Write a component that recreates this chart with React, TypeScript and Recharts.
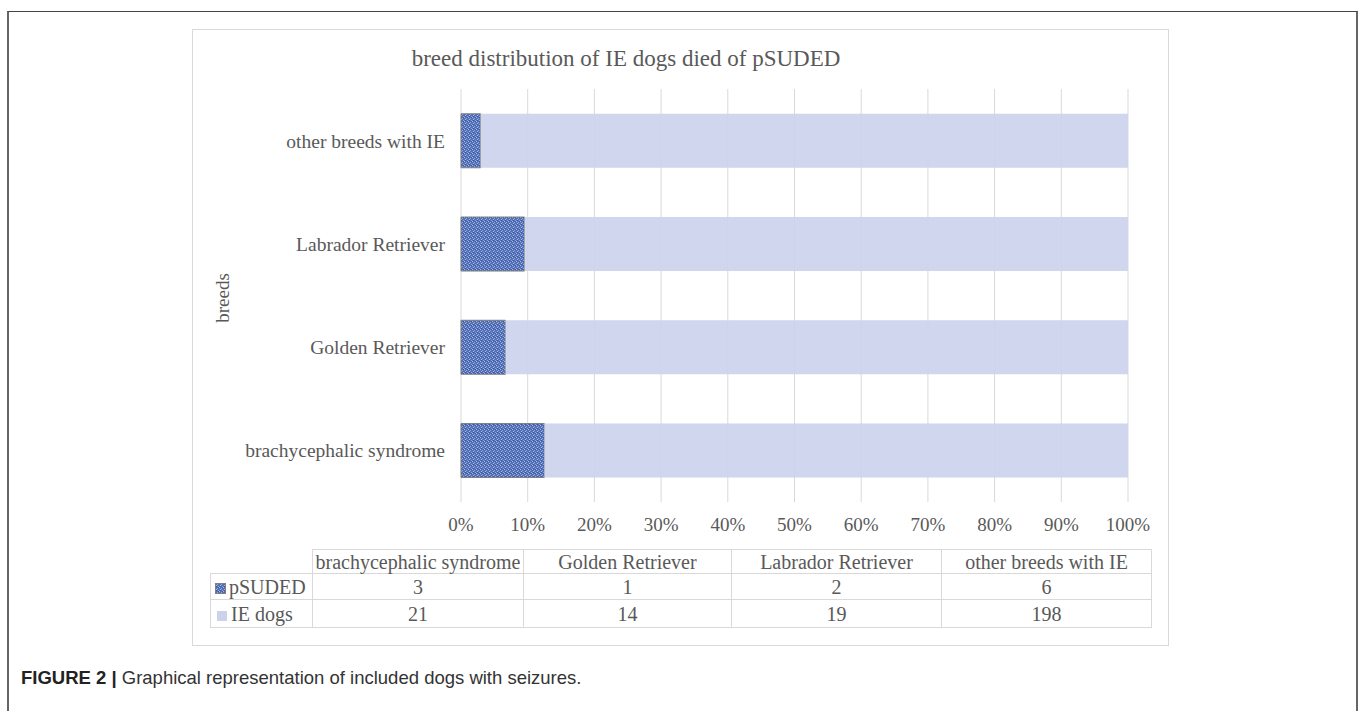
import React from 'react';
import { BarChart, Bar, XAxis, YAxis, CartesianGrid } from 'recharts';

// categories (bottom to top in the picture)
const breeds = ['brachycephalic syndrome', 'Golden Retriever', 'Labrador Retriever', 'other breeds with IE'];
const psuded = [3, 1, 2, 6];
const ieDogs = [21, 14, 19, 198];
const percentTicks = [0, 0.1, 0.2, 0.3, 0.4, 0.5, 0.6, 0.7, 0.8, 0.9, 1];

const data = breeds.map((breed, i) => ({ breed, pSUDED: psuded[i], 'IE dogs': ieDogs[i] }));

const SERIF = '"Liberation Serif", "Times New Roman", serif';
const TEXT = '#595959';
const IE_COLOR = '#cbd3ec';

const PatternDef = ({ id }) => (
  <pattern id={id} width="4" height="4" patternUnits="userSpaceOnUse">
    <rect width="4" height="4" fill="#5371b8" />
    <rect x="0" y="0" width="1" height="1" fill="#a9b9e3" />
    <rect x="2" y="1" width="1" height="1" fill="#93a7da" />
    <rect x="1" y="2" width="1" height="1" fill="#a9b9e3" />
    <rect x="3" y="3" width="1" height="1" fill="#93a7da" />
    <rect x="3" y="0" width="1" height="1" fill="#3b5699" />
    <rect x="1" y="3" width="1" height="1" fill="#3b5699" />
  </pattern>
);

const colWidths = [102, 211, 208, 210, 210];

const cell = {
  border: '1px solid #d9d9d9',
  padding: 0,
  textAlign: 'center' as const,
  fontFamily: SERIF,
  fontSize: 20,
  color: TEXT,
  lineHeight: '22px',
  whiteSpace: 'nowrap' as const,
};

export default function App() {
  return (
    <div style={{ position: 'absolute', left: 0, top: 0, width: 1358, height: 711, overflow: 'hidden', background: '#fff' }}>
      {/* outer figure frame */}
      <div
        style={{
          position: 'absolute',
          left: 7,
          top: 11,
          width: 1347,
          height: 760,
          borderLeft: '2px solid #666',
          borderTop: '1px solid #444',
          borderRight: '2px solid #666',
        }}
      />
      {/* chart area box */}
      <div
        style={{
          position: 'absolute',
          left: 192,
          top: 29,
          width: 975,
          height: 615,
          border: '1px solid #d9d9d9',
        }}
      />
      <div
        style={{
          position: 'absolute',
          left: 192,
          top: 46,
          width: 868,
          textAlign: 'center',
          fontFamily: SERIF,
          fontSize: 23,
          color: TEXT,
        }}
      >
        breed distribution of IE dogs died of pSUDED
      </div>
      <div
        style={{
          position: 'absolute',
          left: 223,
          top: 298,
          transform: 'translate(-50%, -50%) rotate(-90deg)',
          fontFamily: SERIF,
          fontSize: 19,
          color: TEXT,
          whiteSpace: 'nowrap',
        }}
      >
        breeds
      </div>

      <div style={{ position: 'absolute', left: 192, top: 29 }}>
        <BarChart
          width={977}
          height={520}
          data={data}
          layout="vertical"
          stackOffset="expand"
          barCategoryGap="24%"
          margin={{ top: 60, right: 41, bottom: 17, left: 0 }}
        >
          <defs>
            <PatternDef id="psudedFill" />
          </defs>
          <CartesianGrid horizontal={false} stroke="#d9d9d9" />
          <XAxis
            type="number"
            domain={[0, 1]}
            ticks={percentTicks}
            tickFormatter={(v) => `${Math.round(v * 100)}%`}
            axisLine={false}
            tickLine={false}
            tickMargin={10}
            height={30}
            tick={{ fontFamily: SERIF, fontSize: 19, fill: TEXT }}
          />
          <YAxis
            type="category"
            dataKey="breed"
            reversed
            width={269}
            axisLine={false}
            tickLine={false}
            tickMargin={10}
            tick={{ fontFamily: SERIF, fontSize: 19.5, fill: TEXT }}
          />
          <Bar dataKey="pSUDED" stackId="a" fill="url(#psudedFill)" stroke="#7f7f7f" strokeWidth={1} isAnimationActive={false} />
          <Bar dataKey="IE dogs" stackId="a" fill={IE_COLOR} fillOpacity={0.92} isAnimationActive={false} />
        </BarChart>
      </div>

      {/* data table */}
      <table
        style={{
          position: 'absolute',
          left: 210,
          top: 549,
          borderCollapse: 'collapse',
          tableLayout: 'fixed',
          width: colWidths.reduce((a, b) => a + b, 0),
        }}
      >
        <colgroup>
          {colWidths.map((w, i) => (
            <col key={i} style={{ width: w }} />
          ))}
        </colgroup>
        <tbody>
          <tr style={{ height: 24 }}>
            <td style={{ ...cell, border: 'none', borderRight: '1px solid #d9d9d9' }} />
            {breeds.map((b) => (
              <td key={b} style={cell}>
                {b}
              </td>
            ))}
          </tr>
          <tr style={{ height: 26 }}>
            <td style={{ ...cell, textAlign: 'left', paddingLeft: 4 }}>
              <svg width="11" height="11" style={{ marginRight: 3, verticalAlign: '0px' }}>
                <defs>
                  <PatternDef id="psudedLegend" />
                </defs>
                <rect x="0.5" y="0.5" width="10" height="10" fill="url(#psudedLegend)" stroke="#7f7f7f" />
              </svg>
              pSUDED
            </td>
            {psuded.map((v, i) => (
              <td key={i} style={cell}>
                {v}
              </td>
            ))}
          </tr>
          <tr style={{ height: 28 }}>
            <td style={{ ...cell, textAlign: 'left', paddingLeft: 6 }}>
              <svg width="10" height="10" style={{ marginRight: 4, verticalAlign: '0px' }}>
                <rect x="0" y="0" width="10" height="10" fill={IE_COLOR} />
              </svg>
              IE dogs
            </td>
            {ieDogs.map((v, i) => (
              <td key={i} style={cell}>
                {v}
              </td>
            ))}
          </tr>
        </tbody>
      </table>

      <div
        style={{
          position: 'absolute',
          left: 21,
          top: 667,
          fontFamily: '"Liberation Sans", Arial, sans-serif',
          fontSize: 18.5,
          color: '#333',
          whiteSpace: 'nowrap',
        }}
      >
        <span style={{ fontWeight: 'bold', color: '#222' }}>FIGURE 2 |</span> Graphical representation of included dogs with seizures.
      </div>
    </div>
  );
}
